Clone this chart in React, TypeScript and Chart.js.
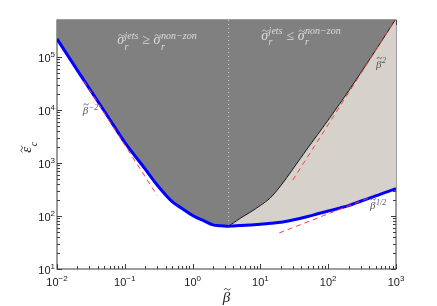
import React, { useEffect, useRef } from 'react';
import { Chart, registerables } from 'chart.js';

Chart.register(...registerables);

// ---- data ----
const betaGrid = [0.01, 0.02, 0.05, 0.1, 0.2, 0.3, 0.5, 0.7, 1, 1.5, 2, 2.5, 3.2, 4, 5, 7, 10, 14, 20, 30, 50, 70, 100, 150, 200, 300, 500, 700, 1000];
const lowerCurve = [2.2e5, 5.6e4, 9.5e3, 2.45e3, 770, 385, 187, 139, 102, 80, 68, 65.5, 64, 65, 66, 68, 70, 73, 76, 84, 98, 110, 124, 142, 157, 190, 239, 280, 327];
const upperCurve = [2.2e5, 5.6e4, 9.5e3, 2.45e3, 770, 385, 187, 139, 102, 80, 68, 65.5, 64, 74, 90, 117, 158, 220, 374, 763, 1920, 3450, 6470, 1.35e4, 2.29e4, 4.96e4, 1.34e5, 2.6e5, 5.3e5];

const asymMinus2Beta = [0.025, 0.3];
const asymMinus2Val = [3.5e4, 244];
const asymPlus2Beta = [30, 1000];
const asymPlus2Val = [477, 5.3e5];
const asymHalfBeta = [19, 400];
const asymHalfVal = [48, 220];
const dividerBeta = [3.4, 3.4];
const dividerVal = [5e5, 64];

const xTickExps = [-2, -1, 0, 1, 2, 3];
const yTickExps = [1, 2, 3, 4, 5];

const SERIF = '"Liberation Serif", "DejaVu Serif", serif';
const SANS = '"Liberation Sans", Arial, sans-serif';

const supStr = (n: number) => (n < 0 ? '\u2212' + Math.abs(n) : String(n));

type Piece = { text: string; sup?: string; sub?: string; tilde?: number };

function drawTilde(ctx: CanvasRenderingContext2D, cx: number, cy: number, w: number, color: string) {
  ctx.save();
  ctx.strokeStyle = color;
  ctx.lineWidth = 0.9;
  ctx.beginPath();
  ctx.moveTo(cx - w / 2, cy + 0.8);
  ctx.bezierCurveTo(cx - w / 4, cy - 1.8, cx - w / 8, cy - 0.6, cx, cy);
  ctx.bezierCurveTo(cx + w / 8, cy + 0.6, cx + w / 4, cy + 1.8, cx + w / 2, cy - 0.8);
  ctx.stroke();
  ctx.restore();
}

function drawPieces(
  ctx: CanvasRenderingContext2D,
  pieces: Piece[],
  x: number,
  y: number,
  size: number,
  small: number,
  color: string,
  align: 'left' | 'center' | 'right'
) {
  const measured = pieces.map((p) => {
    ctx.font = `italic ${size}px ${SERIF}`;
    const wb = ctx.measureText(p.text).width;
    ctx.font = `italic ${small}px ${SERIF}`;
    const ws = Math.max(p.sup ? ctx.measureText(p.sup).width : 0, p.sub ? ctx.measureText(p.sub).width : 0);
    return { wb, ws };
  });
  const total = measured.reduce((a, m) => a + m.wb + (m.ws ? m.ws + 1 : 0), 0);
  let cx = align === 'left' ? x : align === 'center' ? x - total / 2 : x - total;
  ctx.fillStyle = color;
  ctx.textAlign = 'left';
  ctx.textBaseline = 'alphabetic';
  pieces.forEach((p, i) => {
    ctx.font = `italic ${size}px ${SERIF}`;
    ctx.fillStyle = color;
    ctx.fillText(p.text, cx, y);
    if (p.tilde) drawTilde(ctx, cx + measured[i].wb * 0.6, y - size * p.tilde, size * 0.42, color);
    cx += measured[i].wb;
    if (p.sup || p.sub) {
      ctx.font = `italic ${small}px ${SERIF}`;
      if (p.sup) ctx.fillText(p.sup, cx + 0.5, y - size * 0.38);
      if (p.sub) ctx.fillText(p.sub, cx + 0.5, y + size * 0.4);
      cx += measured[i].ws + 1;
    }
  });
}

function drawPow(ctx: CanvasRenderingContext2D, exp: number, px: number, baseline: number, align: 'center' | 'right') {
  const e = supStr(exp);
  ctx.font = `11px ${SANS}`;
  const wb = ctx.measureText('10').width;
  ctx.font = `8px ${SANS}`;
  const we = ctx.measureText(e).width;
  const total = wb + we;
  const x0 = align === 'center' ? px - total / 2 : px - total;
  ctx.fillStyle = '#1a1a1a';
  ctx.textAlign = 'left';
  ctx.textBaseline = 'alphabetic';
  ctx.font = `11px ${SANS}`;
  ctx.fillText('10', x0, baseline);
  ctx.font = `8px ${SANS}`;
  ctx.fillText(e, x0 + wb, baseline - 5);
}

const axesPlugin = {
  id: 'matlabAxes',
  beforeDraw(chart: any) {
    const ctx: CanvasRenderingContext2D = chart.ctx;
    const { left, right, top, bottom } = chart.chartArea;
    const xs = chart.scales.x;
    const ys = chart.scales.y;
    ctx.save();
    ctx.strokeStyle = '#3c3c3c';
    ctx.lineWidth = 1;
    ctx.strokeRect(left, top, right - left, bottom - top);
    ctx.beginPath();
    for (let d = xTickExps[0]; d <= xTickExps[xTickExps.length - 1]; d++) {
      for (let k = 1; k <= 9; k++) {
        const v = k * Math.pow(10, d);
        if (v < xs.min * 0.999 || v > xs.max * 1.001) continue;
        const px = Math.round(xs.getPixelForValue(v)) + 0.5;
        const len = k === 1 ? 5 : 3;
        ctx.moveTo(px, bottom);
        ctx.lineTo(px, bottom - len);
        ctx.moveTo(px, top);
        ctx.lineTo(px, top + len);
      }
    }
    for (let d = yTickExps[0]; d <= yTickExps[yTickExps.length - 1]; d++) {
      for (let k = 1; k <= 9; k++) {
        const v = k * Math.pow(10, d);
        if (v < ys.min * 0.999 || v > ys.max * 1.001) continue;
        const py = Math.round(ys.getPixelForValue(v)) + 0.5;
        const len = k === 1 ? 5 : 3;
        ctx.moveTo(left, py);
        ctx.lineTo(left + len, py);
        ctx.moveTo(right, py);
        ctx.lineTo(right - len, py);
      }
    }
    ctx.stroke();
    ctx.restore();
  },
  afterDraw(chart: any) {
    const ctx: CanvasRenderingContext2D = chart.ctx;
    const { left, bottom } = chart.chartArea;
    const xs = chart.scales.x;
    const ys = chart.scales.y;
    ctx.save();
    xTickExps.forEach((e) => drawPow(ctx, e, xs.getPixelForValue(Math.pow(10, e)), bottom + 17, 'center'));
    yTickExps.forEach((e) => drawPow(ctx, e, left - 2, ys.getPixelForValue(Math.pow(10, e)) + 5, 'right'));

    // region labels
    drawPieces(
      ctx,
      [{ text: 'σ', sup: 'jets', sub: 'r', tilde: 0.62 }, { text: ' ≥ ' }, { text: 'σ', sup: 'non\u2212zon', sub: 'r', tilde: 0.62 }],
      xs.getPixelForValue(0.3),
      44,
      14,
      10,
      '#dcdcdc',
      'center'
    );
    drawPieces(
      ctx,
      [{ text: 'σ', sup: 'jets', sub: 'r', tilde: 0.62 }, { text: ' ≤ ' }, { text: 'σ', sup: 'non\u2212zon', sub: 'r', tilde: 0.62 }],
      xs.getPixelForValue(40),
      39.5,
      14,
      10,
      '#dcdcdc',
      'center'
    );

    // asymptote labels
    drawPieces(ctx, [{ text: 'β', sup: '\u22122', tilde: 0.88 }], xs.getPixelForValue(0.024), ys.getPixelForValue(8.4e3), 11, 8, '#555', 'left');
    drawPieces(ctx, [{ text: 'β', sup: '2', tilde: 0.88 }], xs.getPixelForValue(508), ys.getPixelForValue(6.3e4), 11, 8, '#555', 'left');
    drawPieces(ctx, [{ text: 'β', sup: '1/2', tilde: 0.88 }], xs.getPixelForValue(415), ys.getPixelForValue(137), 11, 8, '#555', 'left');

    // axis titles
    drawPieces(ctx, [{ text: 'β', tilde: 0.85 }], xs.getPixelForValue(3.16), 302, 15, 10, '#222', 'center');
    ctx.save();
    ctx.translate(31, 147);
    ctx.rotate(-Math.PI / 2);
    drawPieces(ctx, [{ text: 'ε', sub: 'c', tilde: 0.62 }], 0, 0, 15, 10, '#222', 'center');
    ctx.restore();
    ctx.restore();
  },
};

const pts = (xs: number[], ys: number[]) => xs.map((x, i) => ({ x, y: ys[i] }));

export default function App() {
  const ref = useRef<HTMLCanvasElement>(null);
  useEffect(() => {
    const canvas = ref.current!;
    const chart = new Chart(canvas, {
      type: 'line',
      data: {
        datasets: [
          {
            label: 'upper boundary',
            data: pts(betaGrid, upperCurve),
            borderColor: '#111',
            borderWidth: 1,
            backgroundColor: '#808080',
            fill: 'end',
            pointRadius: 0,
            cubicInterpolationMode: 'monotone',
            order: 5,
          },
          {
            label: 'lower boundary',
            data: pts(betaGrid, lowerCurve),
            borderColor: '#0000ff',
            borderWidth: 3,
            backgroundColor: '#d6d2cb',
            fill: 0,
            pointRadius: 0,
            cubicInterpolationMode: 'monotone',
            order: 2,
          },
          {
            label: 'beta^-2',
            data: pts(asymMinus2Beta, asymMinus2Val),
            borderColor: '#ff3b3b',
            borderWidth: 1,
            borderDash: [5, 4],
            fill: false,
            pointRadius: 0,
            order: 1,
          },
          {
            label: 'beta^2',
            data: pts(asymPlus2Beta, asymPlus2Val),
            borderColor: '#ff3b3b',
            borderWidth: 1,
            borderDash: [5, 4],
            fill: false,
            pointRadius: 0,
            order: 1,
          },
          {
            label: 'beta^1/2',
            data: pts(asymHalfBeta, asymHalfVal),
            borderColor: '#ff3b3b',
            borderWidth: 1,
            borderDash: [5, 4],
            fill: false,
            pointRadius: 0,
            order: 1,
          },
          {
            label: 'divider',
            data: pts(dividerBeta, dividerVal),
            borderColor: '#d2d2d2',
            borderWidth: 1,
            borderDash: [1, 3],
            fill: false,
            pointRadius: 0,
            order: 4,
          },
        ],
      },
      options: {
        responsive: false,
        animation: false,
        devicePixelRatio: 1,
        events: [],
        layout: { padding: { left: 57, right: 41, top: 20, bottom: 37 } },
        scales: {
          x: { type: 'logarithmic', min: 0.01, max: 1000, display: false },
          y: { type: 'logarithmic', min: 10, max: 5e5, display: false },
        },
        plugins: {
          legend: { display: false },
          tooltip: { enabled: false },
          filler: { drawTime: 'beforeDatasetsDraw' },
        },
      } as any,
      plugins: [axesPlugin],
    });
    return () => chart.destroy();
  }, []);
  return (
    <div style={{ position: 'fixed', left: 0, top: 0, width: 437, height: 306, background: '#fff' }}>
      <canvas ref={ref} width={437} height={306} style={{ display: 'block' }} />
    </div>
  );
}
